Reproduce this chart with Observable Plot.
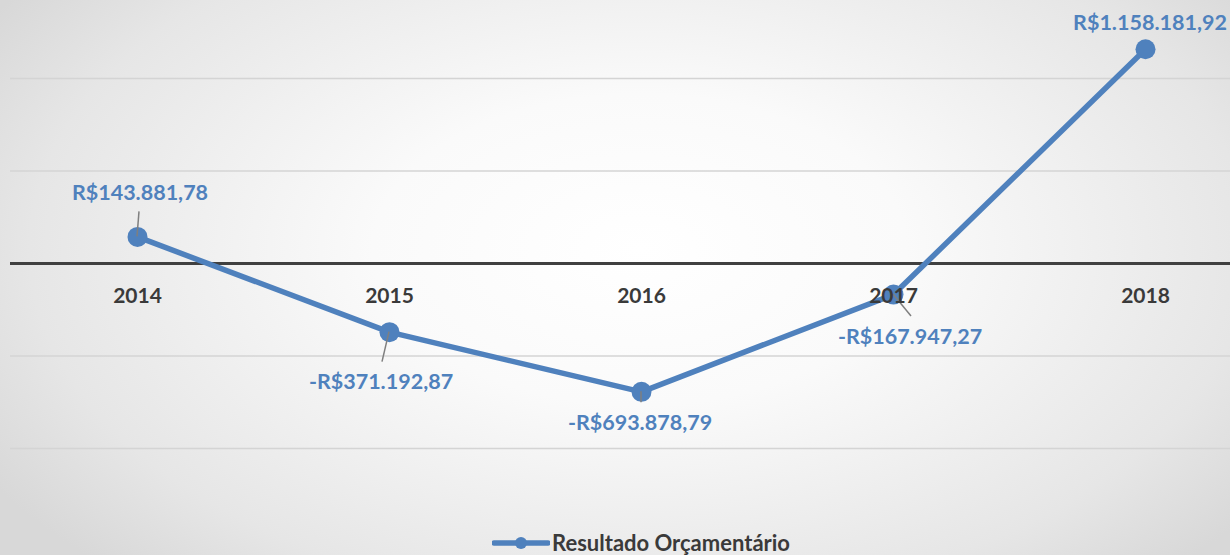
<!DOCTYPE html>
<html>
<head>
<meta charset="utf-8">
<script src="https://cdn.jsdelivr.net/npm/d3@7"></script>
<script src="https://cdn.jsdelivr.net/npm/@observablehq/plot@0.6"></script>
<style>
  html, body { margin: 0; padding: 0; }
  body {
    width: 1230px; height: 555px; overflow: hidden;
    background: radial-gradient(ellipse 62% 80% at 52% 45%, #ffffff 0%, #fafafa 35%, #e6e6e6 80%, #d8d8d8 100%);
    font-family: Lato, "Open Sans", sans-serif;
  }
  #chart svg { display: block; background: transparent; }
  #legend {
    height: 25px; display: flex; align-items: center; justify-content: center;
    font-weight: bold; font-size: 22px; color: #3a3a3a; padding-left: 52px;
  }
  #legend svg { margin-right: 2px; }
</style>
</head>
<body>
<div id="chart"></div>
<div id="legend"></div>
<script>
// ---- data ----
const years = ["2014", "2015", "2016", "2017", "2018"];
const values = [143881.78, -371192.87, -693878.79, -167947.27, 1158181.92];
const valueLabels = ["R$143.881,78", "-R$371.192,87", "-R$693.878,79", "-R$167.947,27", "R$1.158.181,92"];
const gridValues = [-1000000, -500000, 500000, 1000000];
const seriesName = "Resultado Orçamentário";

// ---- label layout (pixel offsets from each point) ----
const labelOffset = [[3, -44], [-8, 49], [-1, 31], [17, 42], [5, -27]];
const leaderEnd = [[2, -25], [-7, 30], [0, 11], [18, 22], null];

const blue = "#4f81bd";
const data = years.map((y, i) => ({year: y, value: values[i], label: valueLabels[i], i}));

function leaders(index, scales, values_, dimensions, context) {
  const g = d3.create("svg:g");
  data.forEach((d, i) => {
    const e = leaderEnd[i];
    if (!e) return;
    const x = scales.x(d.year), y = scales.y(d.value);
    g.append("line")
      .attr("x1", x).attr("y1", y)
      .attr("x2", x + e[0]).attr("y2", y + e[1])
      .attr("stroke", "#7f7f7f").attr("stroke-width", 1.5);
  });
  return g.node();
}

const chart = Plot.plot({
  width: 1230,
  height: 530,
  marginLeft: 10,
  marginRight: 0,
  marginTop: 0,
  marginBottom: 0,
  style: {background: "transparent", overflow: "visible"},
  x: {type: "point", domain: years, range: [135, 1146], padding: 0, axis: null},
  y: {domain: [-1000000, 1000000], range: [448, 78], axis: null},
  marks: [
    Plot.ruleY(gridValues, {stroke: "#d4d4d4", strokeWidth: 1.5}),
    Plot.ruleY([0], {stroke: "#404040", strokeWidth: 3}),
    Plot.line(data, {x: "year", y: "value", stroke: blue, strokeWidth: 5.5, curve: "linear"}),
    Plot.dot(data, {x: "year", y: "value", r: 10, fill: blue, stroke: null}),
    leaders,
    Plot.text(years, {x: d => d, y: 0, dy: 33, text: d => d, fontSize: 21, fontWeight: "bold", fill: "#3a3a3a", fontFamily: "Lato, sans-serif"}),
    Plot.text(data, {
      x: "year", y: "value", text: "label",
      fontSize: 21, fontWeight: "bold", fill: blue, fontFamily: "Lato, sans-serif",
      render(index, scales, values_, dimensions, context, next) {
        const g = d3.create("svg:g");
        index.forEach(i => {
          const d = data[i];
          g.append("text")
            .attr("x", scales.x(d.year) + labelOffset[i][0])
            .attr("y", scales.y(d.value) + labelOffset[i][1])
            .attr("text-anchor", "middle")
            .attr("dominant-baseline", "central")
            .attr("font-family", "Lato, sans-serif")
            .attr("font-size", 21.5)
            .attr("font-weight", "bold")
            .attr("fill", blue)
            .text(d.label);
        });
        return g.node();
      }
    })
  ]
});
document.getElementById("chart").appendChild(chart);

// legend
const leg = document.getElementById("legend");
const sw = d3.create("svg").attr("width", 58).attr("height", 20);
sw.append("line").attr("x1", 2).attr("x2", 56).attr("y1", 10).attr("y2", 10)
  .attr("stroke", blue).attr("stroke-width", 5.5).attr("stroke-linecap", "round");
sw.append("circle").attr("cx", 29).attr("cy", 10).attr("r", 6).attr("fill", blue);
leg.appendChild(sw.node());
const span = document.createElement("span");
span.textContent = seriesName;
leg.appendChild(span);
</script>
</body>
</html>
